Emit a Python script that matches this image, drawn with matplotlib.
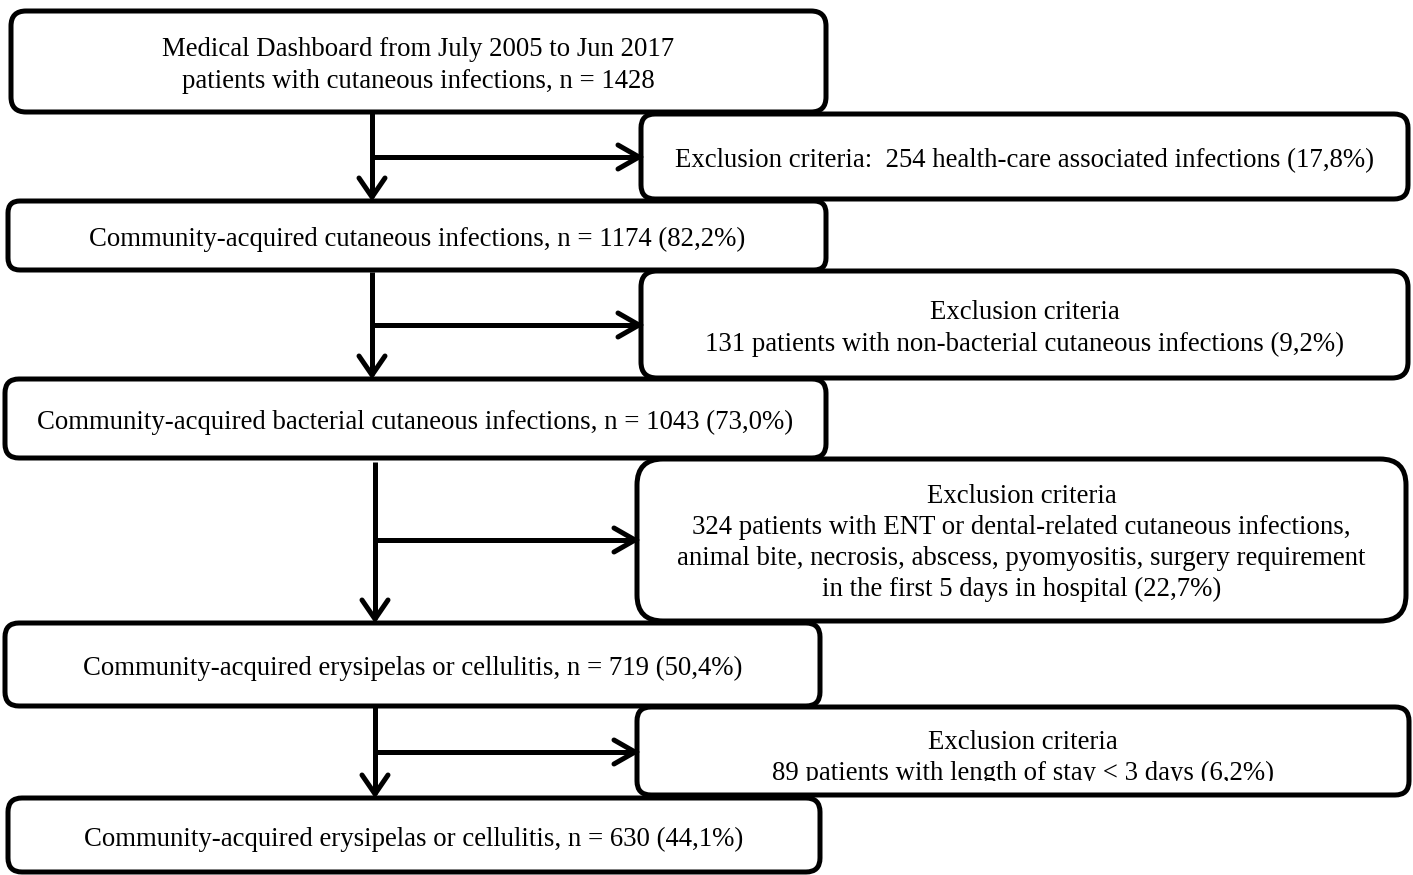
# Flow chart of patient selection (cutaneous infections)
import matplotlib.pyplot as plt
from matplotlib.patches import FancyBboxPatch, Rectangle

plt.rcParams['font.family'] = ['Liberation Serif', 'DejaVu Serif']

main_labels = [
    "Medical Dashboard from July 2005 to Jun 2017\npatients with cutaneous infections, n = 1428",
    "Community-acquired cutaneous infections, n = 1174 (82,2%)",
    "Community-acquired bacterial cutaneous infections, n = 1043 (73,0%)",
    "Community-acquired erysipelas or cellulitis, n = 719 (50,4%)",
    "Community-acquired erysipelas or cellulitis, n = 630 (44,1%)",
]
excl_labels = [
    "Exclusion criteria:  254 health-care associated infections (17,8%)",
    "Exclusion criteria\n131 patients with non-bacterial cutaneous infections (9,2%)",
    "Exclusion criteria\n324 patients with ENT or dental-related cutaneous infections,\n"
    "animal bite, necrosis, abscess, pyomyositis, surgery requirement\n"
    "in the first 5 days in hospital (22,7%)",
    "Exclusion criteria\n89 patients with length of stay < 3 days (6,2%)",
]

# box geometry in pixels (x0, y0, x1, y1, corner radius)
main_boxes = [(11, 11, 826, 112, 15), (8, 201, 826, 270, 12), (5, 379, 826, 458, 14),
              (5, 623, 820, 706, 14), (8, 798, 820, 872, 14)]
excl_boxes = [(641, 114, 1408, 199, 14), (641, 271, 1408, 378, 16),
              (637, 459, 1406, 621, 26), (637, 707, 1409, 795, 14)]
arrows = [(372, 112, 199, 157, 641), (372, 272, 377, 325, 641),
          (375, 462, 621, 540, 637), (375, 707, 796, 752, 637)]

fig = plt.figure(figsize=(14.13, 8.75), dpi=100)
ax = fig.add_axes([0, 0, 1, 1])
ax.set_xlim(0, 1413)
ax.set_ylim(875, 0)
ax.axis('off')

fs = 19.3
lw = 3.6

def draw_box(b, label, dy=0, clip_bottom=None):
    x0, y0, x1, y1, r = b
    p = FancyBboxPatch((x0, y0), x1 - x0, y1 - y0,
                       boxstyle="round,pad=0,rounding_size=%d" % r,
                       fc='white', ec='black', lw=lw, zorder=2)
    ax.add_patch(p)
    t = ax.text((x0 + x1) / 2, (y0 + y1) / 2 + dy, label, ha='center', va='center',
                fontsize=fs, linespacing=1.33, zorder=3)
    if clip_bottom is not None:
        # the original text frame cuts off the bottom of the last line
        clip = Rectangle((x0, y0), x1 - x0, clip_bottom - y0, transform=ax.transData)
        t.set_clip_on(True)
        t.set_clip_path(clip)

for b, lab in zip(main_boxes, main_labels):
    draw_box(b, lab, dy=4)
for i, (b, lab) in enumerate(zip(excl_boxes, excl_labels)):
    if i == 3:
        draw_box(b, lab, dy=7, clip_bottom=781)
    elif i == 2:
        draw_box(b, lab, dy=3)
    else:
        draw_box(b, lab, dy=4)

for x, ya, yb, yh, xe in arrows:
    ax.plot([x, x], [ya, yb - 2], color='black', lw=lw, solid_capstyle='butt', zorder=1)
    ax.plot([x - 13, x, x + 13], [yb - 21, yb - 2, yb - 21], color='black', lw=lw,
            solid_capstyle='round', solid_joinstyle='miter', zorder=4)
    ax.plot([x, xe - 2], [yh, yh], color='black', lw=lw, solid_capstyle='butt', zorder=1)
    ax.plot([xe - 23, xe - 2, xe - 23], [yh - 12, yh, yh + 12], color='black', lw=lw,
            solid_capstyle='round', solid_joinstyle='miter', zorder=4)

plt.savefig("out.png", dpi=100)
